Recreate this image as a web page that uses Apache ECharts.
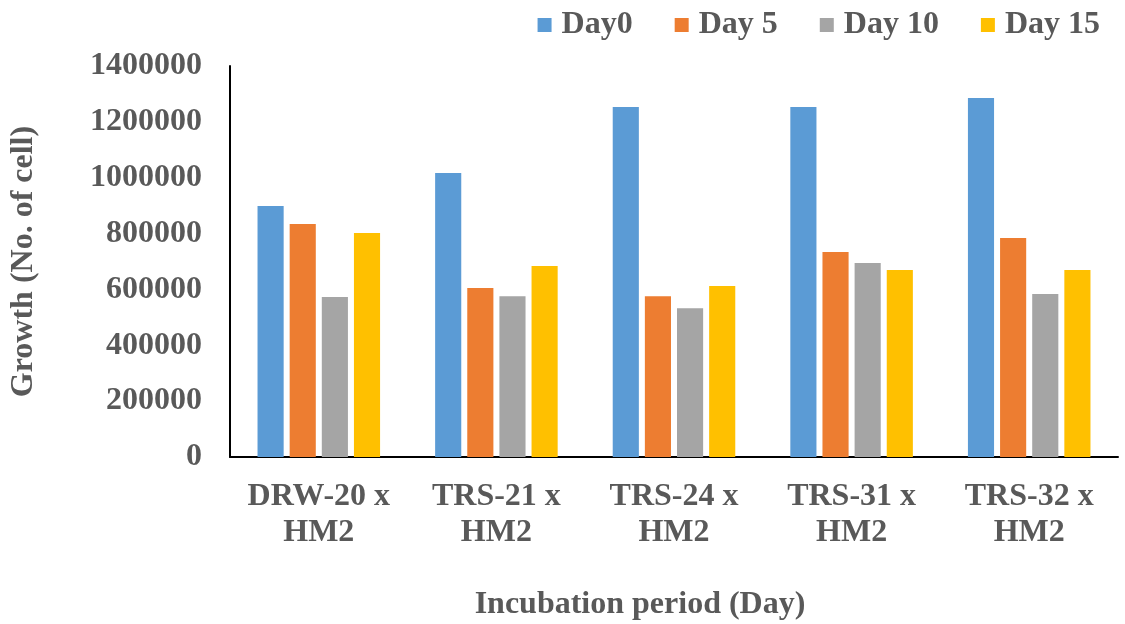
<!DOCTYPE html>
<html>
<head>
<meta charset="utf-8">
<script src="https://cdn.jsdelivr.net/npm/echarts@6/dist/echarts.min.js"></script>
<style>html,body{margin:0;padding:0;background:#fff;}#c{width:1125px;height:624px;}</style>
</head>
<body>
<div id="c"></div>
<script>
const categories = ["DRW-20 x\nHM2", "TRS-21 x\nHM2", "TRS-24 x\nHM2", "TRS-31 x\nHM2", "TRS-32 x\nHM2"];
const seriesNames = ["Day0", "Day 5", "Day 10", "Day 15"];
const day0 = [899000, 1017000, 1253000, 1253000, 1285000];
const day5 = [834000, 605000, 576000, 734000, 784000];
const day10 = [573000, 576000, 533000, 695000, 584000];
const day15 = [802000, 684000, 612000, 670000, 670000];
const colors = ["#5B9BD5", "#ED7D31", "#A5A5A5", "#FFC000"];

const font = "'Liberation Serif', 'Times New Roman', serif";
const txt = {fontFamily: font, fontWeight: "bold", color: "#595959", fontSize: 32};
const chart = echarts.init(document.getElementById("c"));
const data = [day0, day5, day10, day15];
chart.setOption({
  animation: false,
  color: colors,
  legend: {
    top: 4, right: 20, itemWidth: 14, itemHeight: 14, itemGap: 42,
    icon: "rect",
    textStyle: Object.assign({}, txt, {padding: [0, 0, 0, 5]}),
    data: seriesNames
  },
  grid: {left: 230, right: 7, top: 66, bottom: 167, outerBoundsMode: "none", containLabel: false},
  xAxis: {
    type: "category", data: categories,
    name: "Incubation period (Day)", nameLocation: "middle", nameGap: 132,
    nameTextStyle: Object.assign({}, txt, {padding: [0, 68, 0, 0]}),
    axisLine: {lineStyle: {color: "#000", width: 2}},
    axisTick: {show: false},
    axisLabel: Object.assign({}, txt, {lineHeight: 36, margin: 22, interval: 0})
  },
  yAxis: {
    type: "value", min: 0, max: 1400000, interval: 200000,
    name: "Growth (No. of cell)", nameLocation: "middle", nameGap: 190,
    nameTextStyle: txt,
    axisLine: {show: true, lineStyle: {color: "#000", width: 2}},
    axisTick: {show: false},
    splitLine: {show: false},
    axisLabel: Object.assign({}, txt, {margin: 28, formatter: v => String(v)})
  },
  series: seriesNames.map((n, i) => ({
    name: n, type: "bar", data: data[i],
    barGap: "23%", barCategoryGap: "31%"
  }))
});
</script>
</body>
</html>
